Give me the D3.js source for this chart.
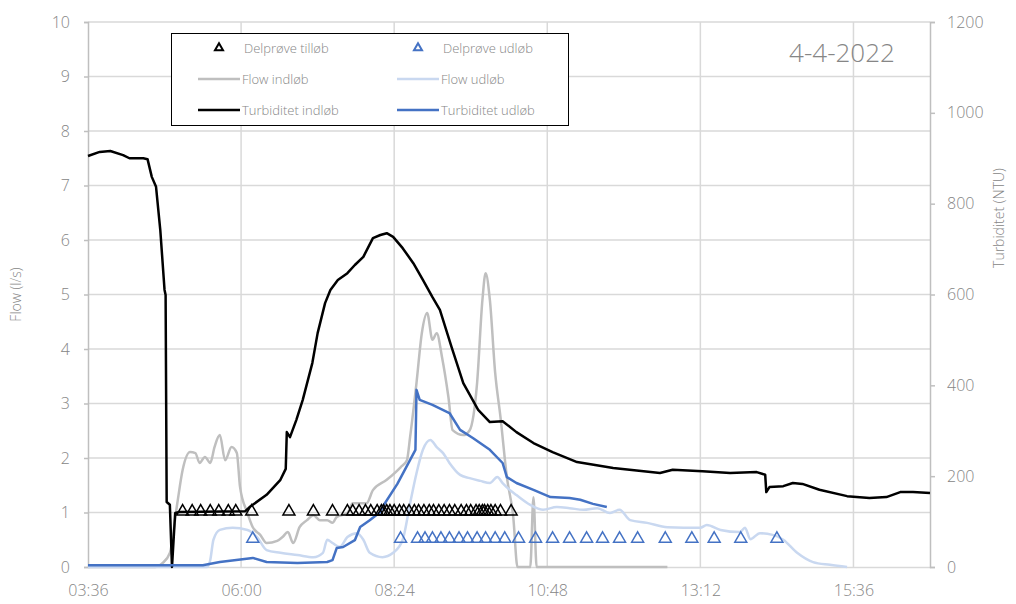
<!DOCTYPE html>
<html>
<head>
<meta charset="utf-8">
<script src="https://cdn.jsdelivr.net/npm/d3@7"></script>
<style>
  html, body { margin: 0; padding: 0; background: #fff; }
  svg text { font-family: "Open Sans", "Noto Sans", sans-serif; font-weight: 300; }
</style>
</head>
<body>
<svg id="chart" width="1016" height="604"></svg>
<script>
// ---- data ----
const dateLabel = "4-4-2022";
const timeDomain = ["03:36", "16:48"];
const timeTicks = ["03:36", "06:00", "08:24", "10:48", "13:12", "15:36"];
const flowTicks = [0, 1, 2, 3, 4, 5, 6, 7, 8, 9, 10];
const turbidityTicks = [0, 200, 400, 600, 800, 1000, 1200];

// Flow indløb (l/s)
const flowInlet = [
  ["03:36", 0], ["04:39", 0], ["04:46", 0.07], ["04:53", 0.26], ["05:00", 1.17], ["05:05", 1.78],
  ["05:12", 2.11], ["05:17", 2.09], ["05:21", 1.91], ["05:26", 2.02], ["05:31", 1.91], ["05:35", 2.20],
  ["05:40", 2.42], ["05:45", 1.96], ["05:51", 2.20], ["05:56", 2.09], ["05:59", 1.47], ["06:06", 0.99],
  ["06:11", 0.73], ["06:18", 0.59], ["06:24", 0.44], ["06:34", 0.48], ["06:39", 0.55], ["06:44", 0.64],
  ["06:49", 0.44], ["06:55", 0.73], ["07:02", 0.86], ["07:08", 0.95], ["07:14", 0.86], ["07:21", 0.86],
  ["07:26", 0.81], ["07:30", 0.92], ["07:40", 0.99], ["07:45", 1.17], ["07:58", 1.17], ["08:04", 1.41],
  ["08:17", 1.60], ["08:30", 1.83], ["08:36", 1.96], ["08:39", 2.39], ["08:45", 3.38], ["08:50", 4.29],
  ["08:55", 4.66], ["09:00", 4.17], ["09:04", 4.29], ["09:09", 3.85], ["09:15", 3.12], ["09:19", 2.51],
  ["09:29", 2.42], ["09:35", 2.51], ["09:42", 3.38], ["09:47", 4.90], ["09:50", 5.39], ["09:54", 4.90],
  ["09:59", 3.56], ["10:04", 2.75], ["10:10", 1.65], ["10:16", 0.92], ["10:20", 0], ["10:32", 0],
  ["10:35", 1.28], ["10:38", 0], ["12:41", 0]
];

// Flow udløb (l/s)
const flowOutlet = [
  ["03:36", 0], ["05:28", 0], ["05:31", 0.13], ["05:34", 0.50], ["05:40", 0.68], ["05:52", 0.72],
  ["06:06", 0.68], ["06:15", 0.55], ["06:24", 0.31], ["06:37", 0.26], ["06:53", 0.22], ["07:08", 0.18],
  ["07:17", 0.26], ["07:21", 0.50], ["07:26", 0.44], ["07:33", 0.37], ["07:40", 0.55], ["07:49", 0.62],
  ["07:55", 0.50], ["08:01", 0.26], ["08:13", 0.18], ["08:23", 0.26], ["08:32", 0.50], ["08:39", 1.17],
  ["08:45", 1.72], ["08:51", 2.15], ["08:58", 2.33], ["09:04", 2.20], ["09:10", 2.09], ["09:16", 1.91],
  ["09:26", 1.69], ["09:35", 1.63], ["09:45", 1.58], ["09:54", 1.54], ["10:01", 1.65], ["10:06", 1.54],
  ["10:13", 1.41], ["10:19", 1.32], ["10:32", 1.14], ["10:44", 1.05], ["10:57", 1.10], ["11:09", 1.08],
  ["11:22", 1.05], ["11:35", 1.08], ["11:47", 0.99], ["11:56", 1.05], ["12:06", 0.86], ["12:22", 0.81],
  ["12:41", 0.73], ["13:12", 0.72], ["13:18", 0.77], ["13:31", 0.68], ["13:49", 0.64], ["13:54", 0.72],
  ["13:59", 0.51], ["14:08", 0.62], ["14:20", 0.59], ["14:30", 0.50], ["14:43", 0.26], ["14:58", 0.09],
  ["15:14", 0.04], ["15:30", 0]
];

// Turbiditet indløb (NTU)
const turbidityInlet = [
  ["03:36", 905], ["03:47", 914], ["03:57", 916], ["04:09", 907], ["04:15", 900], ["04:28", 900],
  ["04:32", 898], ["04:36", 859], ["04:40", 837], ["04:44", 742], ["04:48", 610], ["04:49", 599],
  ["04:50", 143], ["04:53", 137], ["04:55", 0], ["04:58", 119], ["05:02", 121], ["06:04", 123],
  ["06:08", 132], ["06:24", 159], ["06:37", 192], ["06:42", 216], ["06:43", 297], ["06:46", 286],
  ["06:52", 324], ["06:58", 368], ["07:07", 449], ["07:12", 515], ["07:19", 581], ["07:24", 610],
  ["07:31", 632], ["07:40", 647], ["07:47", 665], ["07:55", 683], ["08:04", 724], ["08:11", 731],
  ["08:17", 735], ["08:23", 727], ["08:32", 702], ["08:42", 669], ["08:51", 632], ["09:00", 594],
  ["09:07", 566], ["09:18", 484], ["09:29", 405], ["09:43", 346], ["09:54", 319], ["10:06", 321],
  ["10:19", 297], ["10:35", 273], ["10:53", 253], ["11:16", 231], ["11:50", 218], ["12:34", 207],
  ["12:46", 214], ["13:14", 211], ["13:40", 207], ["14:05", 209], ["14:13", 203], ["14:14", 165],
  ["14:17", 176], ["14:30", 178], ["14:39", 185], ["14:48", 183], ["15:04", 170], ["15:30", 156],
  ["15:51", 152], ["16:07", 154], ["16:20", 165], ["16:32", 165], ["16:48", 163]
];

// Turbiditet udløb (NTU)
const turbidityOutlet = [
  ["03:36", 4], ["05:24", 4], ["05:40", 11], ["06:11", 20], ["06:24", 11], ["06:53", 9],
  ["07:21", 11], ["07:26", 15], ["07:30", 42], ["07:36", 44], ["07:47", 59], ["07:52", 88],
  ["08:01", 103], ["08:11", 121], ["08:13", 132], ["08:27", 183], ["08:39", 236], ["08:44", 258],
  ["08:45", 390], ["08:48", 368], ["09:00", 357], ["09:16", 339], ["09:26", 302], ["09:38", 284],
  ["09:54", 258], ["10:06", 229], ["10:10", 198], ["10:19", 185], ["10:35", 170], ["10:51", 154],
  ["11:09", 152], ["11:19", 148], ["11:31", 139], ["11:44", 132]
];

// Delprøve tilløb: sample times, plotted at 1 l/s
const sampleInletLevel = 1;
const sampleInletTimes = [
  "05:05", "05:14", "05:22", "05:31", "05:39", "05:48", "05:55", "06:10", "06:45", "07:08",
  "07:26", "07:40", "07:45", "07:51", "07:57", "08:02", "08:08", "08:12", "08:14", "08:17",
  "08:20", "08:24", "08:29", "08:33", "08:38", "08:43", "08:47", "08:52", "08:57", "09:01",
  "09:06", "09:11", "09:16", "09:21", "09:27", "09:32", "09:36", "09:41", "09:44", "09:47",
  "09:49", "09:52", "09:55", "09:59", "10:04", "10:14"
];

// Delprøve udløb: sample times, plotted at 0.5 l/s
const sampleOutletLevel = 0.5;
const sampleOutletTimes = [
  "06:11", "08:30", "08:46", "08:53", "09:00", "09:08", "09:16", "09:25", "09:33", "09:42",
  "09:50", "09:59", "10:08", "10:21", "10:37", "10:53", "11:09", "11:25", "11:40", "11:56",
  "12:13", "12:39", "13:04", "13:25", "13:50", "14:24"
];

// ---- layout ----
const svg = d3.select("#chart");
const plot = { left: 88, right: 930, top: 22, bottom: 567 };
const colors = {
  flowIn: "#bfbfbf", flowOut: "#c9d8f0", turbIn: "#000000", turbOut: "#4472c4",
  grid: "#d9d9d9", axis: "#bfbfbf", text: "#868686"
};

const parseTime = d3.timeParse("%H:%M");
const x = d3.scaleTime().domain(timeDomain.map(parseTime)).range([plot.left, plot.right]);
const yFlow = d3.scaleLinear().domain([0, 10]).range([plot.bottom, plot.top]);
const yTurb = d3.scaleLinear().domain([0, 1200]).range([plot.bottom, plot.top]);

// gridlines
const grid = svg.append("g");
grid.selectAll("line.h").data(flowTicks.filter(d => d > 0)).join("line")
  .attr("x1", plot.left).attr("x2", plot.right)
  .attr("y1", d => yFlow(d)).attr("y2", d => yFlow(d))
  .attr("stroke", colors.grid).attr("stroke-width", 1.5);
grid.selectAll("line.v").data(timeTicks.slice(1)).join("line")
  .attr("x1", d => x(parseTime(d))).attr("x2", d => x(parseTime(d)))
  .attr("y1", plot.top).attr("y2", plot.bottom)
  .attr("stroke", colors.grid).attr("stroke-width", 1.5);

// axes
const xAxis = svg.append("g").attr("transform", `translate(0,${plot.bottom})`)
  .call(d3.axisBottom(x).tickValues(timeTicks.map(parseTime)).tickFormat(d3.timeFormat("%H:%M")).tickSize(0).tickPadding(18));
const yAxisL = svg.append("g").attr("transform", `translate(${plot.left},0)`)
  .call(d3.axisLeft(yFlow).tickValues(flowTicks).tickFormat(d3.format("d")).tickSize(4).tickPadding(14));
const yAxisR = svg.append("g").attr("transform", `translate(${plot.right},0)`)
  .call(d3.axisRight(yTurb).tickValues(turbidityTicks).tickFormat(d3.format("d")).tickSize(5).tickPadding(12));

[xAxis, yAxisL, yAxisR].forEach(g => {
  g.select(".domain").attr("stroke", colors.axis).attr("stroke-width", 1.5);
  g.selectAll(".tick line").attr("stroke", colors.axis).attr("stroke-width", 1.5);
  g.selectAll(".tick text").attr("fill", colors.text).attr("font-size", 16)
    .attr("font-family", "'Open Sans', sans-serif").attr("font-weight", 300);
});
xAxis.select(".domain").attr("stroke", colors.grid);

// axis titles
svg.append("text").attr("transform", `translate(21,${(plot.top + plot.bottom) / 2}) rotate(-90)`)
  .attr("text-anchor", "middle").attr("fill", colors.text).attr("font-size", 14).text("Flow (l/s)");
svg.append("text").attr("transform", `translate(1004,218) rotate(-90)`)
  .attr("text-anchor", "middle").attr("fill", colors.text).attr("font-size", 14).text("Turbiditet (NTU)");

// date label
svg.append("text").attr("x", 842).attr("y", 62).attr("text-anchor", "middle")
  .attr("fill", colors.text).attr("font-size", 26).text(dateLabel);

// series lines
const lineFlow = d3.line().x(d => x(parseTime(d[0]))).y(d => yFlow(d[1])).curve(d3.curveMonotoneX);
const lineTurb = d3.line().x(d => x(parseTime(d[0]))).y(d => yTurb(d[1])).curve(d3.curveLinear);

svg.append("path").datum(flowInlet).attr("d", lineFlow)
  .attr("fill", "none").attr("stroke", colors.flowIn).attr("stroke-width", 2.5).attr("stroke-linejoin", "round");
svg.append("path").datum(flowOutlet).attr("d", lineFlow)
  .attr("fill", "none").attr("stroke", colors.flowOut).attr("stroke-width", 2.5).attr("stroke-linejoin", "round");
svg.append("path").datum(turbidityInlet).attr("d", lineTurb)
  .attr("fill", "none").attr("stroke", colors.turbIn).attr("stroke-width", 2.5).attr("stroke-linejoin", "round");
svg.append("path").datum(turbidityOutlet).attr("d", lineTurb)
  .attr("fill", "none").attr("stroke", colors.turbOut).attr("stroke-width", 2.5).attr("stroke-linejoin", "round");

// sample markers
const tri = d3.symbol(d3.symbolTriangle, 62);
svg.append("g").selectAll("path").data(sampleInletTimes).join("path")
  .attr("d", tri)
  .attr("transform", d => `translate(${x(parseTime(d))},${yFlow(sampleInletLevel) - 1})`)
  .attr("fill", "none").attr("stroke", "#000").attr("stroke-width", 1.5);
svg.append("g").selectAll("path").data(sampleOutletTimes).join("path")
  .attr("d", tri)
  .attr("transform", d => `translate(${x(parseTime(d))},${yFlow(sampleOutletLevel) - 1})`)
  .attr("fill", "none").attr("stroke", colors.turbOut).attr("stroke-width", 1.5);

// legend
const legend = svg.append("g");
legend.append("rect").attr("x", 171.5).attr("y", 33.5).attr("width", 397).attr("height", 92)
  .attr("fill", "#fff").attr("stroke", "#000").attr("stroke-width", 1);
const legendItems = [
  { label: "Delprøve tilløb", type: "marker", color: "#000", col: 0, row: 0 },
  { label: "Delprøve udløb", type: "marker", color: colors.turbOut, col: 1, row: 0 },
  { label: "Flow indløb", type: "line", color: colors.flowIn, col: 0, row: 1 },
  { label: "Flow udløb", type: "line", color: colors.flowOut, col: 1, row: 1 },
  { label: "Turbiditet indløb", type: "line", color: colors.turbIn, col: 0, row: 2 },
  { label: "Turbiditet udløb", type: "line", color: colors.turbOut, col: 1, row: 2 }
];
const colX = [198, 397];
const rowY = [48, 79, 110];
legendItems.forEach(it => {
  const lx = colX[it.col], ly = rowY[it.row];
  if (it.type === "line") {
    legend.append("line").attr("x1", lx).attr("x2", lx + 42).attr("y1", ly).attr("y2", ly)
      .attr("stroke", it.color).attr("stroke-width", 2.5);
  } else {
    legend.append("path").attr("d", d3.symbol(d3.symbolTriangle, 28))
      .attr("transform", `translate(${lx + 21},${ly})`)
      .attr("fill", "none").attr("stroke", it.color).attr("stroke-width", 2);
  }
  legend.append("text").attr("x", lx + (it.type === "line" ? 44 : 46)).attr("y", ly).attr("dy", "0.35em")
    .attr("fill", colors.text).attr("font-size", 13).text(it.label);
});
</script>
</body>
</html>
